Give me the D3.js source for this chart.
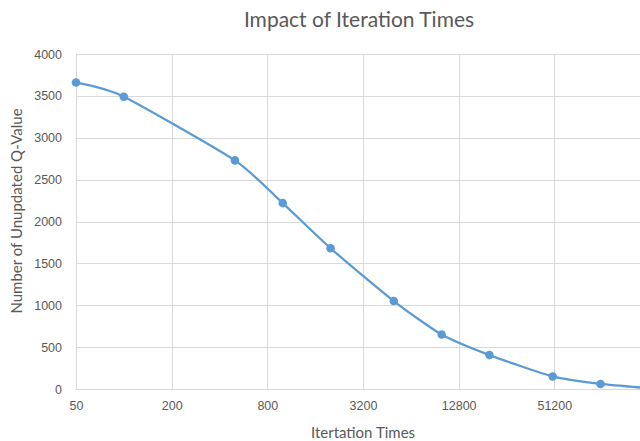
<!DOCTYPE html>
<html>
<head>
<meta charset="utf-8">
<script src="https://cdn.jsdelivr.net/npm/d3@7"></script>
<style>
  body { margin: 0; background: #fff; }
  svg { display: block; font-family: Lato, "Open Sans", sans-serif; }
</style>
</head>
<body>
<div id="chart"></div>
<script>
// data
const iterations = [50, 100, 500, 1000, 2000, 5000, 10000, 20000, 50000, 100000, 200000];
const unupdated = [3660, 3490, 2730, 2220, 1680, 1050, 650, 405, 150, 60, 10];
const xTicks = [50, 200, 800, 3200, 12800, 51200];
const yTicks = [0, 500, 1000, 1500, 2000, 2500, 3000, 3500, 4000];

const width = 640;
const height = 441;
const margin = { top: 54, right: -10, bottom: 52, left: 76 };

const svg = d3
  .select("#chart")
  .append("svg")
  .attr("width", width)
  .attr("height", height);

const x = d3
  .scaleLog()
  .base(2)
  .domain([50, 204800])
  .range([margin.left, width - margin.right]);

const y = d3
  .scaleLinear()
  .domain([0, 4000])
  .range([height - margin.bottom, margin.top]);

const grid = "#d9d9d9";
const textCol = "#595959";

// gridlines
svg
  .append("g")
  .selectAll("line")
  .data(yTicks)
  .enter()
  .append("line")
  .attr("x1", margin.left)
  .attr("x2", width - margin.right)
  .attr("y1", (d) => Math.round(y(d)) + 0.5)
  .attr("y2", (d) => Math.round(y(d)) + 0.5)
  .attr("stroke", grid);

svg
  .append("g")
  .selectAll("line")
  .data(xTicks)
  .enter()
  .append("line")
  .attr("x1", (d) => Math.round(x(d)) + 0.5)
  .attr("x2", (d) => Math.round(x(d)) + 0.5)
  .attr("y1", y(4000))
  .attr("y2", y(0))
  .attr("stroke", grid);

// axes (labels only)
const xAxis = svg
  .append("g")
  .attr("transform", `translate(0,${y(0)})`)
  .call(d3.axisBottom(x).tickValues(xTicks).tickFormat(d3.format("d")).tickSize(0).tickPadding(12));
xAxis.select(".domain").remove();
xAxis.selectAll("text").style("font-size", "12.5px").style("fill", textCol);

const yAxis = svg
  .append("g")
  .attr("transform", `translate(${margin.left},0)`)
  .call(d3.axisLeft(y).tickValues(yTicks).tickFormat(d3.format("d")).tickSize(0).tickPadding(14));
yAxis.select(".domain").remove();
yAxis.selectAll("text").style("font-size", "12.5px").style("fill", textCol);

// line + markers
const points = iterations.map((d, i) => ({ it: d, val: unupdated[i] }));

svg
  .append("path")
  .datum(points)
  .attr("fill", "none")
  .attr("stroke", "#5b9bd5")
  .attr("stroke-width", 2.25)
  .attr("stroke-linejoin", "round")
  .attr("d", d3.line().x((d) => x(d.it)).y((d) => y(d.val)).curve(d3.curveCardinal.tension(0.4)));

svg
  .selectAll("circle")
  .data(points)
  .enter()
  .append("circle")
  .attr("cx", (d) => x(d.it))
  .attr("cy", (d) => y(d.val))
  .attr("r", 4.3)
  .attr("fill", "#5b9bd5");

// titles
svg
  .append("text")
  .attr("x", 359)
  .attr("y", 27)
  .attr("text-anchor", "middle")
  .style("font-size", "21px")
  .style("fill", textCol)
  .text("Impact of Iteration Times");

svg
  .append("text")
  .attr("x", 363)
  .attr("y", 438)
  .attr("text-anchor", "middle")
  .style("font-size", "15px")
  .style("fill", textCol)
  .text("Itertation Times");

svg
  .append("text")
  .attr("transform", "translate(22,211) rotate(-90)")
  .attr("text-anchor", "middle")
  .style("font-size", "15px")
  .style("fill", textCol)
  .text("Number of Unupdated Q-Value");
</script>
</body>
</html>
